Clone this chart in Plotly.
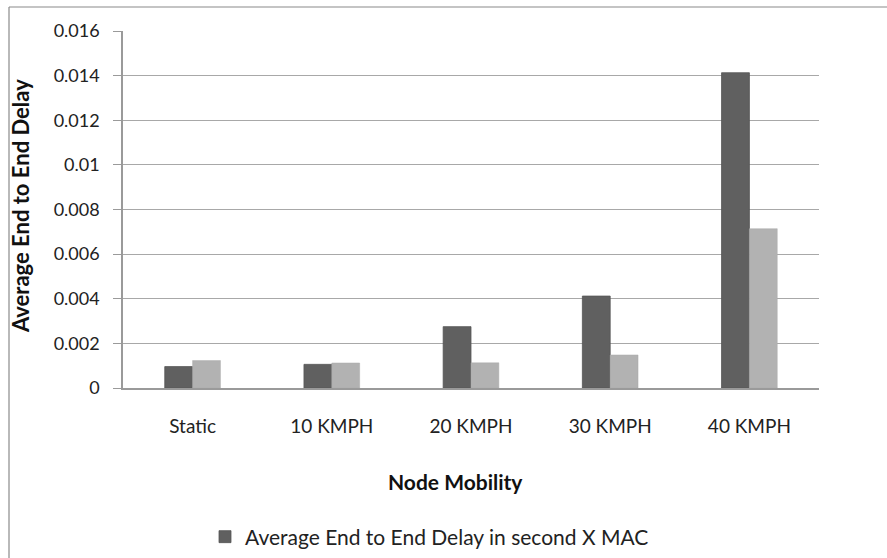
import plotly.graph_objects as go

categories = ["Static", "10 KMPH", "20 KMPH", "30 KMPH", "40 KMPH"]
xmac_delay = [0.00096, 0.00106, 0.00275, 0.00412, 0.01413]
other_delay = [0.00123, 0.00112, 0.00113, 0.00148, 0.00714]
y_ticks = [0, 0.002, 0.004, 0.006, 0.008, 0.01, 0.012, 0.014, 0.016]
y_tick_text = ["0", "0.002", "0.004", "0.006", "0.008", "0.01", "0.012", "0.014", "0.016"]

FONT = "Lato, Calibri, sans-serif"
W, H = 887, 558
L, R, T, B = 123, 68, 31, 170
pw, ph = W - L - R, H - T - B


def px_x(x):
    return (x - L) / pw


def px_y(y):
    return (H - B - y) / ph


fig = go.Figure()
fig.add_trace(go.Bar(
    x=categories, y=xmac_delay,
    name="Average End to End Delay in second X MAC",
    marker=dict(color="#606060", line=dict(color="#555555", width=0.8)),
))
fig.add_trace(go.Bar(
    x=categories, y=other_delay,
    name="Average End to End Delay in second",
    showlegend=False,
    marker=dict(color="#b2b2b2", line=dict(color="#aaaaaa", width=0.5)),
))

fig.update_xaxes(
    showline=True, linecolor="#9a9a9a", linewidth=1.5,
    ticks="", ticklabelstandoff=20,
    tickfont=dict(size=19, color="#222222", family=FONT),
    showgrid=False,
)
fig.update_yaxes(
    range=[0, 0.016], tickvals=y_ticks, ticktext=y_tick_text,
    showline=True, linecolor="#9a9a9a", linewidth=1.5,
    ticks="outside", ticklen=8, tickcolor="#9a9a9a", ticklabelstandoff=10,
    showgrid=True, gridcolor="#a8a8a8", gridwidth=1.2,
    tickfont=dict(size=18, color="#222222", family=FONT),
    zeroline=False,
)

fig.update_layout(
    width=W, height=H,
    margin=dict(l=L, r=R, t=T, b=B, pad=0, autoexpand=False),
    paper_bgcolor="white", plot_bgcolor="white",
    barmode="group", bargap=0.6, bargroupgap=0,
    font=dict(family=FONT, color="#222222"),
    showlegend=True,
    legend=dict(
        orientation="h", x=px_x(205), y=px_y(537), xanchor="left", yanchor="middle",
        font=dict(size=21, family=FONT, color="#222222"),
        itemwidth=30,
    ),
    shapes=[
        dict(type="line", xref="paper", yref="paper",
             x0=px_x(9), x1=px_x(9), y0=px_y(H + 5), y1=px_y(7),
             line=dict(color="#8a8a8a", width=1.2)),
        dict(type="line", xref="paper", yref="paper",
             x0=px_x(9), x1=px_x(W + 5), y0=px_y(7), y1=px_y(7),
             line=dict(color="#8a8a8a", width=1.2)),
    ],
    annotations=[
        dict(text="<b>Average End to End Delay</b>", xref="paper", yref="paper",
             x=px_x(20), y=px_y(206), textangle=-90, showarrow=False,
             xanchor="center", yanchor="middle",
             font=dict(size=22, family=FONT, color="#111111")),
        dict(text="<b>Node Mobility</b>", xref="paper", yref="paper",
             x=px_x(455), y=px_y(481), showarrow=False,
             xanchor="center", yanchor="middle",
             font=dict(size=21, family=FONT, color="#111111")),
    ],
)

fig.write_html("out.html", config={"displayModeBar": False},
               post_script="document.body.style.margin='0';")
